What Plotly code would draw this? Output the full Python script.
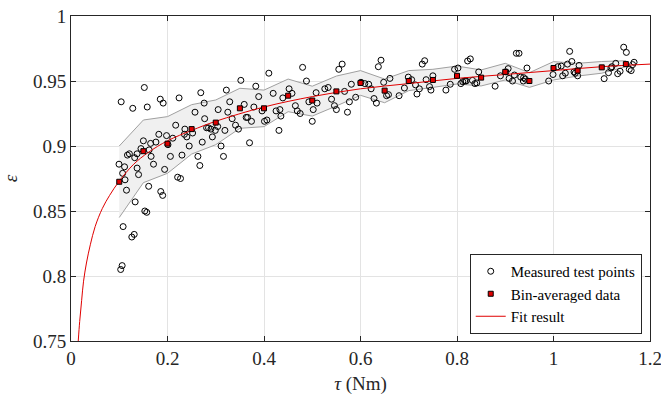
import plotly.graph_objects as go

# Measured test points (tau [Nm], epsilon)
meas_x = [0.152,0.104,0.128,0.158,0.185,0.191,0.224,0.217,0.236,0.235,0.240,0.245,0.182,0.198,0.211,0.201,
          0.176,0.165,0.150,0.145,0.162,0.137,0.121,0.117,0.132,0.166,0.171,0.206,0.230,0.194,0.0995,0.111,
          0.137,0.140,0.107,0.112,0.221,0.227,0.161,0.115,0.186,0.190,0.133,0.153,0.157,0.108,0.131,0.126,
          0.106,0.103,
          0.352,0.410,0.269,0.322,0.383,0.276,0.329,0.359,0.389,0.257,0.305,0.325,0.379,0.396,0.277,0.334,
          0.363,0.366,0.374,0.401,0.406,0.341,0.347,0.304,0.281,0.285,0.290,0.299,0.319,0.252,0.293,0.272,
          0.311,0.370,0.263,0.316,0.267,
          0.480,0.562,0.555,0.488,0.452,0.458,0.419,0.439,0.508,0.526,0.533,0.540,0.567,0.546,0.550,0.573,
          0.493,0.510,0.502,0.465,0.469,0.475,0.425,0.433,0.435,0.500,0.431,
          0.6425,0.637,0.728,0.733,0.581,0.601,0.609,0.617,0.648,0.661,0.699,0.706,0.714,0.722,0.622,0.691,
          0.717,0.590,0.628,0.654,0.658,0.680,0.577,0.633,0.736,
          0.822,0.8276,0.795,0.802,0.845,0.750,0.743,0.746,0.777,0.786,0.808,0.812,0.816,0.819,0.832,0.837,
          0.841,0.879,0.890,
          0.923,0.9285,0.945,1.0335,0.906,0.9015,0.919,0.908,0.915,0.932,0.938,0.9375,0.9415,0.990,0.999,
          1.009,1.016,1.029,1.038,1.053,1.019,1.0245,1.0425,1.045,1.050,
          1.1455,1.151,1.129,1.119,1.121,1.114,1.133,1.138,1.167,1.164,1.157,1.161,1.105]
meas_y = [0.945,0.934,0.929,0.930,0.936,0.933,0.937,0.916,0.913,0.909,0.907,0.900,0.909,0.908,0.906,0.901,
          0.903,0.902,0.904,0.898,0.897,0.894,0.894,0.893,0.891,0.892,0.886,0.892,0.893,0.882,0.886,0.884,
          0.883,0.878,0.879,0.874,0.876,0.875,0.869,0.866,0.865,0.862,0.857,0.850,0.849,0.838,0.832,0.830,
          0.808,0.805,
          0.9505,0.956,0.941,0.943,0.946,0.933,0.934,0.932,0.938,0.926,0.928,0.926,0.930,0.927,0.921,0.921,
          0.922,0.922,0.919,0.919,0.920,0.916,0.913,0.915,0.914,0.914,0.913,0.912,0.912,0.910,0.907,0.903,
          0.900,0.9025,0.892,0.892,0.885,
          0.9605,0.963,0.959,0.950,0.944,0.9405,0.9405,0.937,0.941,0.944,0.945,0.936,0.942,0.931,0.928,0.926,
          0.934,0.933,0.928,0.931,0.927,0.925,0.927,0.928,0.923,0.919,0.912,
          0.966,0.961,0.963,0.9656,0.9475,0.949,0.948,0.9475,0.949,0.952,0.953,0.951,0.947,0.944,0.944,0.9446,
          0.940,0.9375,0.9365,0.9387,0.9395,0.9387,0.934,0.933,0.951,
          0.9654,0.967,0.959,0.960,0.957,0.954,0.9457,0.943,0.943,0.9475,0.948,0.9495,0.950,0.950,0.9505,0.948,
          0.9485,0.946,0.954,
          0.9713,0.9713,0.960,0.9728,0.9595,0.957,0.9546,0.952,0.950,0.953,0.9526,0.950,0.9515,0.950,0.955,
          0.961,0.9615,0.963,0.965,0.962,0.954,0.956,0.957,0.956,0.954,
          0.976,0.972,0.9636,0.960,0.961,0.9564,0.9556,0.9575,0.9644,0.9626,0.959,0.958,0.9518]

# Bin-averaged data with band (mean +/- spread)
bin_x = [0.10,0.15,0.20,0.25,0.30,0.35,0.40,0.45,0.50,0.55,0.60,0.65,0.70,0.75,0.80,0.85,0.90,0.95,1.00,1.05,1.10,1.15]
bin_y = [0.8725,0.896,0.9018,0.913,0.918,0.929,0.929,0.9387,0.935,0.942,0.9485,0.9426,0.950,0.9508,0.954,0.9526,0.957,0.950,0.960,0.958,0.9605,0.963]
band_hi = [0.900,0.920,0.9226,0.9318,0.9354,0.9444,0.943,0.9515,0.946,0.9538,0.958,0.9515,0.958,0.959,0.9615,0.9585,0.9636,0.9564,0.9649,0.9636,0.965,0.9656]
band_lo = [0.845,0.8718,0.879,0.8938,0.901,0.9136,0.9149,0.9264,0.923,0.9308,0.939,0.9333,0.9426,0.9451,0.9477,0.9462,0.9508,0.9451,0.9508,0.9538,0.956,0.961]

# Fit result curve
fit_x = [0.015,0.018,0.022,0.026,0.032,0.04,0.05,0.065,0.08,0.1,0.13,0.16,0.2,0.25,0.3,0.4,0.5,0.6,0.7,0.8,0.9,1.0,1.1,1.2]
fit_y = [0.750,0.765,0.781,0.796,0.810,0.824,0.838,0.852,0.862,0.873,0.886,0.895,0.904,0.912,0.919,0.930,0.938,0.944,0.948,0.952,0.955,0.958,0.961,0.963]

FONT = "Liberation Serif"

fig = go.Figure()

fig.add_trace(go.Scatter(x=bin_x + bin_x[::-1], y=band_hi + band_lo[::-1], mode="lines",
                         fill="toself", fillcolor="rgba(240,240,240,1)",
                         line=dict(color="#a0a0a0", width=1), showlegend=False, hoverinfo="skip"))

fig.add_trace(go.Scatter(x=meas_x, y=meas_y, mode="markers", name="Measured test points",
                         marker=dict(symbol="circle-open", size=6, color="black", line=dict(width=1)),
                         legendrank=1))

fig.add_trace(go.Scatter(x=fit_x, y=fit_y, mode="lines", name="Fit result", line_shape="spline",
                         line=dict(color="#e00000", width=1), legendrank=3))

fig.add_trace(go.Scatter(x=bin_x, y=bin_y, mode="markers", name="Bin-averaged data",
                         marker=dict(symbol="square", size=5, color="#e00000", line=dict(width=1, color="black")),
                         legendrank=2))

axis_common = dict(showline=True, linecolor="#262626", linewidth=1, mirror="ticks", ticks="inside",
                   ticklen=5, tickcolor="#262626", showgrid=True, gridcolor="#e3e3e3", gridwidth=1,
                   zeroline=False, automargin=False, ticklabeloverflow="allow",
                   tickfont=dict(family=FONT, size=19, color="#262626"))

fig.update_xaxes(range=[0, 1.2], tickvals=[0, 0.2, 0.4, 0.6, 0.8, 1, 1.2],
                 ticktext=["0", "0.2", "0.4", "0.6", "0.8", "1", "1.2"],
                 title=dict(text="<i>τ</i> (Nm)", font=dict(family=FONT, size=19, color="#262626"), standoff=10),
                 **axis_common)
fig.update_yaxes(range=[0.75, 1], tickvals=[0.75, 0.8, 0.85, 0.9, 0.95, 1],
                 ticktext=["0.75", "0.8", "0.85", "0.9", "0.95", "1"],
                 title=dict(text="<i>ε</i>", font=dict(family=FONT, size=19, color="#262626"), standoff=10),
                 **axis_common)

fig.update_layout(width=661, height=395, margin=dict(l=71, r=11, t=16, b=54),
                  plot_bgcolor="white", paper_bgcolor="white",
                  font=dict(family=FONT),
                  legend=dict(x=0.9857, y=0.0215, xanchor="right", yanchor="bottom",
                              bgcolor="white", bordercolor="#262626", borderwidth=1,
                              font=dict(family=FONT, size=15, color="black"),
                              tracegroupgap=0, itemwidth=30),
                  showlegend=True)

fig.write_html("out.html")
